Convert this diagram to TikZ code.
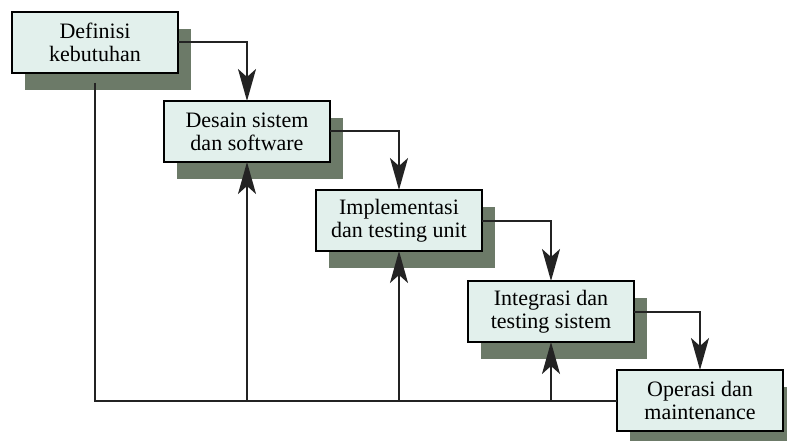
\documentclass[tikz,border=0pt]{standalone}
\usepackage{fontspec}
\setmainfont{Liberation Serif}
\usetikzlibrary{positioning,shadows,arrows.meta}
\definecolor{boxfill}{RGB}{226,240,236}
\definecolor{shadowgreen}{RGB}{108,122,104}
\definecolor{linegray}{RGB}{35,35,35}

\begin{document}
\begin{tikzpicture}[x=1pt, y=-1pt,
  phase/.style={draw=black, line width=2pt, fill=boxfill, align=center,
    minimum width=166pt, minimum height=61pt, inner sep=2pt, outer sep=0pt,
    font=\fontsize{22}{23}\selectfont,
    drop shadow={shadow xshift=13pt, shadow yshift=-17pt, fill=shadowgreen, opacity=1}},
  flow/.style={draw=linegray, line width=2pt,
    -{Stealth[length=32pt, width=18pt, inset=8pt]}},
  node distance=28pt and -14pt]
  \useasboundingbox (0,0) rectangle (787,441);
  \node[phase, anchor=north west] (def) at (12,12) {Definisi\\kebutuhan};
  \node[phase, below right=of def] (des) {Desain sistem\\dan software};
  \node[phase, below right=of des] (imp) {Implementasi\\dan testing unit};
  \node[phase, below right=of imp, yshift=-2pt] (int) {Integrasi dan\\testing sistem};
  \node[phase, below right=of int, xshift=-3pt] (ops) {Operasi dan\\maintenance};
  \coordinate (defout) at ([yshift=-10pt]def.south);
  % alur turun
  \draw[flow] (def.east) -| (des.north);
  \draw[flow] (des.east) -| (imp.north);
  \draw[flow] (imp.east) -| (int.north);
  \draw[flow] (int.east) -| (ops.north);
  % umpan balik
  \draw[draw=linegray, line width=2pt] (defout) |- (ops.west);
  \draw[flow] (des.south |- ops.west) -- (des.south);
  \draw[flow] (imp.south |- ops.west) -- (imp.south);
  \draw[flow] (int.south |- ops.west) -- (int.south);
\end{tikzpicture}
\end{document}
